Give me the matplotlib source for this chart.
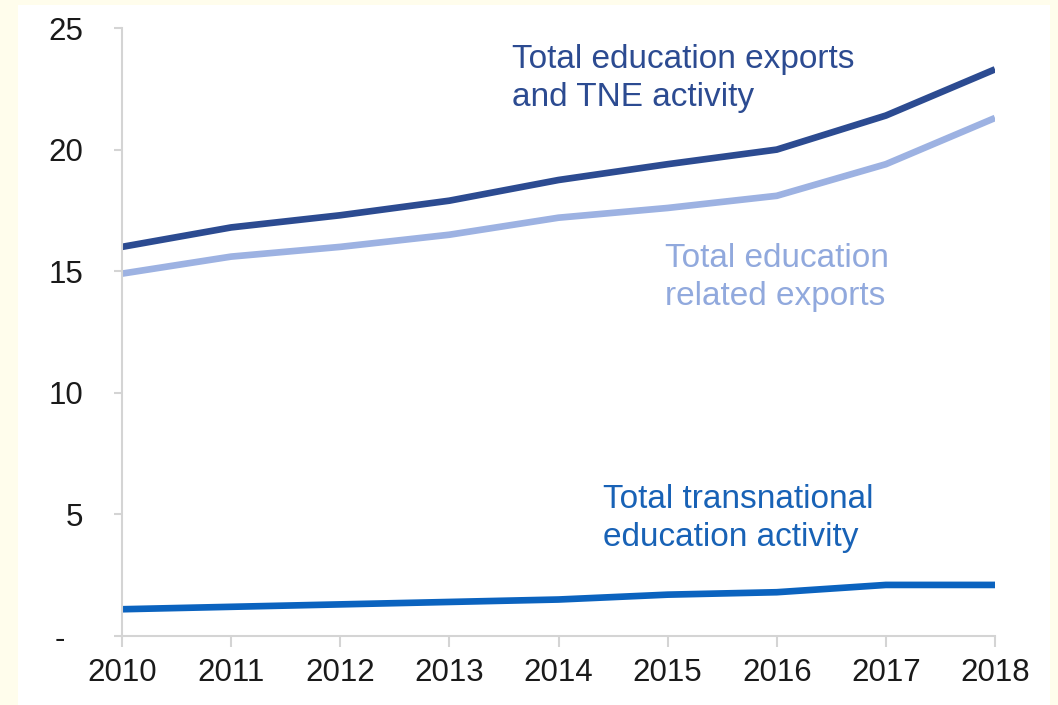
import matplotlib.pyplot as plt
from matplotlib.patches import Rectangle

plt.rcParams['font.family'] = ['Liberation Sans', 'DejaVu Sans']

years = [2010, 2011, 2012, 2013, 2014, 2015, 2016, 2017, 2018]
total_with_tne = [16.0, 16.8, 17.3, 17.9, 18.75, 19.4, 20.0, 21.4, 23.3]
related_exports = [14.9, 15.6, 16.0, 16.5, 17.2, 17.6, 18.1, 19.4, 21.3]
tne_activity = [1.1, 1.2, 1.3, 1.4, 1.5, 1.7, 1.8, 2.1, 2.1]

y_ticks = [0, 5, 10, 15, 20, 25]
y_labels = ['-  ', '5', '10', '15', '20', '25']

dark = '#2c4b91'
light = '#9db2e2'
mid = '#0b63bf'
grey = '#d4d4d4'

fig = plt.figure(figsize=(10.58, 7.05), dpi=100)
fig.patch.set_facecolor('#fffdec')
# white panel inside the cream frame
fig.add_artist(Rectangle((18 / 1058, 0), (1050 - 18) / 1058, 1 - 5 / 705,
                         transform=fig.transFigure, facecolor='white',
                         edgecolor='none', zorder=0))

ax = fig.add_axes([122 / 1058, 1 - 636 / 705, (995 - 122) / 1058, (636 - 28) / 705])
ax.set_facecolor('none')

ax.plot(years, total_with_tne, color=dark, lw=4.8, solid_capstyle='butt')
ax.plot(years, related_exports, color=light, lw=4.8, solid_capstyle='butt')
ax.plot(years, tne_activity, color=mid, lw=4.8, solid_capstyle='butt')

ax.set_xlim(2010, 2018)
ax.set_ylim(0, 25)
ax.set_xticks(years)
ax.set_xticklabels([str(y) for y in years])
ax.set_yticks(y_ticks)
ax.set_yticklabels(y_labels)

for s in ['top', 'right']:
    ax.spines[s].set_visible(False)
for s in ['left', 'bottom']:
    ax.spines[s].set_color(grey)
    ax.spines[s].set_linewidth(1.5)
ax.spines['bottom'].set_zorder(0)

ax.tick_params(axis='x', length=8, width=1.5, color=grey, pad=8,
               labelsize=22.5, labelcolor='#1a1a1a')
ax.tick_params(axis='y', length=6, width=1.5, color=grey, pad=22,
               labelsize=22.5, labelcolor='#1a1a1a')
for lab in ax.get_xticklabels() + ax.get_yticklabels():
    lab.set_clip_on(False)

ax.text(2013.57, 24.35, 'Total education exports\nand TNE activity', color=dark,
        fontsize=24, va='top', ha='left', linespacing=1.3)
ax.text(2014.98, 16.15, 'Total education\nrelated exports', color='#91a9dd',
        fontsize=24, va='top', ha='left', linespacing=1.3)
ax.text(2014.41, 6.25, 'Total transnational\neducation activity', color='#1862b6',
        fontsize=24, va='top', ha='left', linespacing=1.3)

fig.savefig('out.png', dpi=100, facecolor=fig.get_facecolor())
